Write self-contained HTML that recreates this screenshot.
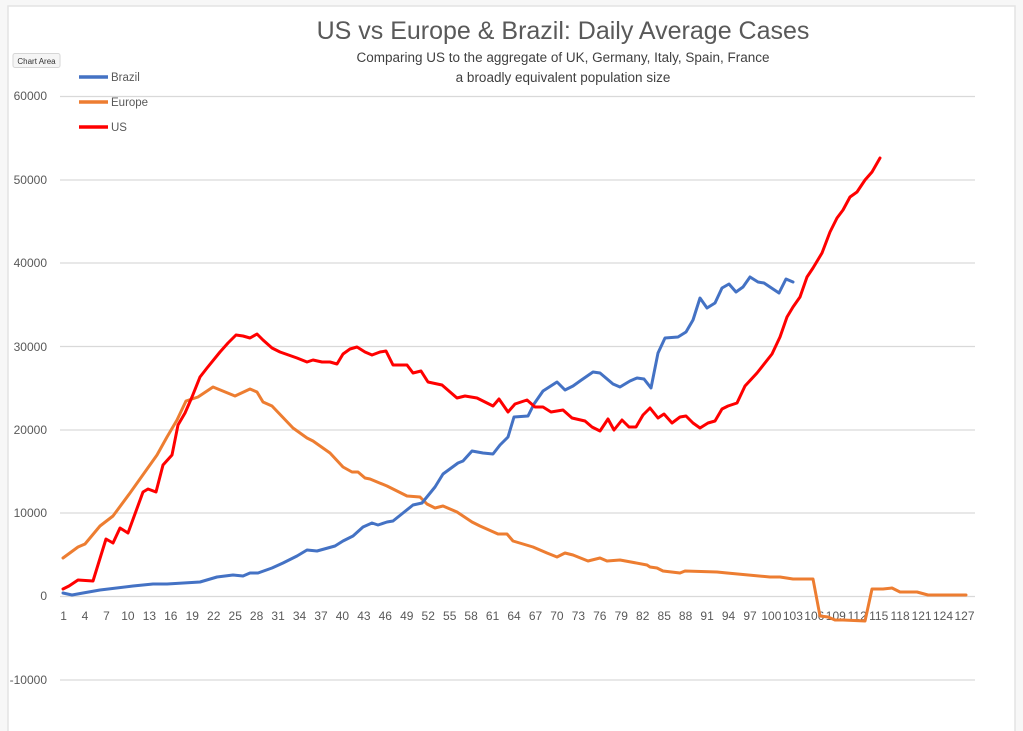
<!DOCTYPE html>
<html><head><meta charset="utf-8"><style>
body{margin:0;background:#fff;width:1023px;height:731px;overflow:hidden}
svg{display:block;font-family:"Liberation Sans",sans-serif}
</style></head><body>
<svg width="1023" height="731" viewBox="0 0 1023 731">
<rect x="0" y="0" width="1023" height="731" fill="#f7f7f7"/>
<rect x="8" y="6" width="1007" height="730" fill="#fff" stroke="#e3e3e3" stroke-width="1.5"/>
<text x="563" y="39" text-anchor="middle" font-size="25" fill="#595959">US vs Europe &amp; Brazil:  Daily Average Cases</text>
<text x="563" y="62" text-anchor="middle" font-size="13.5" fill="#404040">Comparing US to the aggregate of UK, Germany, Italy, Spain, France</text>
<text x="563" y="82" text-anchor="middle" font-size="13.5" fill="#404040">a broadly equivalent population size</text>
<rect x="13" y="53.5" width="47" height="14" rx="2" fill="#f5f5f5" stroke="#d6d6d6"/>
<text x="36.5" y="64" text-anchor="middle" font-size="8" fill="#333">Chart Area</text>
<g stroke="#d9d9d9" stroke-width="1.3">
<line x1="60" x2="975" y1="96.5" y2="96.5"/><line x1="60" x2="975" y1="180" y2="180"/>
<line x1="60" x2="975" y1="263" y2="263"/><line x1="60" x2="975" y1="346.5" y2="346.5"/>
<line x1="60" x2="975" y1="430" y2="430"/><line x1="60" x2="975" y1="513" y2="513"/>
<line x1="60" x2="975" y1="596.5" y2="596.5"/><line x1="60" x2="975" y1="680" y2="680"/>
</g>
<g font-size="12" fill="#595959" text-anchor="end">
<text x="47" y="100">60000</text><text x="47" y="184">50000</text><text x="47" y="267">40000</text>
<text x="47" y="351">30000</text><text x="47" y="434">20000</text><text x="47" y="517">10000</text>
<text x="47" y="600">0</text><text x="47" y="684">-10000</text>
</g>
<g font-size="12" fill="#595959" text-anchor="middle" id="xl"></g>
<g fill="none" stroke-width="3" stroke-linejoin="round" stroke-linecap="round">
<polyline stroke="#ed7d31" points="63,558 78,547 85,544 100,526 113,516 130,493 157,455 167,437 177,420 186,401 198,397 213,387 235,396 250,389 257,392 263,402 272,406 293,428 307,438 313,441 330,453 343,467 352,472 358,472 365,478 370,479 387,486 407,496 420,497 427,504 435,508 443,506 457,512 472,522 480,526 498,534 507,534 513,541 533,547 547,553 557,557 565,553 573,555 588,561 600,558 607,561 620,560 647,565 650,567 657,568 663,571 680,573 685,571 717,572 727,573 770,577 780,577 793,579 813,579 820,616 828,617 835,620 843,620 865,621 872,589 883,589 892,588 900,592 917,592 928,595 966,595"/>
<polyline stroke="#4472c4" points="63,593 72,595 83,593 100,590 133,586 153,584 167,584 200,582 217,577 233,575 243,576 250,573 258,573 272,568 283,563 297,556 307,550 317,551 335,546 343,541 353,536 363,527 372,523 378,525 387,522 393,521 403,513 413,505 422,503 435,487 443,474 458,463 463,461 472,451 483,453 493,454 500,445 508,437 514,417 528,416 534,404 543,391 557,382 565,390 573,386 580,381 593,372 600,373 613,384 620,387 630,381 637,378 644,379 651,388 658,353 665,338 678,337 686,332 693,320 700,298 707,308 715,303 722,288 729,284 736,292 743,287 750,277 758,282 764,283 779,293 786,279 793,282"/>
<polyline stroke="#ff0000" points="63,589 69,586 78,580 93,581 106,539 113,543 120,528 128,533 143,492 148,489 156,492 163,465 172,455 178,425 185,413 192,397 200,377 207,368 220,352 228,343 236,335 243,336 250,338 257,334 263,340 272,348 280,352 297,358 307,362 313,360 322,362 330,362 337,364 343,354 350,349 357,347 365,352 372,355 380,352 386,351 393,365 407,365 413,373 421,371 428,382 442,385 457,398 465,396 477,398 485,402 493,406 499,399 508,412 515,404 527,400 535,407 543,407 551,412 563,410 572,418 585,421 592,427 600,431 608,419 614,430 622,420 629,427 636,427 643,415 650,408 658,418 664,414 672,423 680,417 686,416 693,423 700,428 708,423 715,421 722,409 728,406 737,403 745,386 757,373 772,354 780,337 787,317 793,307 800,297 807,277 813,268 822,253 830,232 837,218 843,210 850,197 857,192 865,180 872,172 880,158"/>
</g>
<g stroke-width="3.5">
<line x1="79" x2="108" y1="77" y2="77" stroke="#4472c4"/>
<line x1="79" x2="108" y1="102" y2="102" stroke="#ed7d31"/>
<line x1="79" x2="108" y1="127" y2="127" stroke="#ff0000"/>
</g>
<g font-size="11.5" fill="#595959">
<text x="111" y="81">Brazil</text><text x="111" y="106">Europe</text><text x="111" y="131">US</text>
</g>
</svg>
<script>
var g=document.getElementById('xl'),s='';
for(var i=1;i<=127;i+=3){var x=60+(i-0.5)*7.15;s+='<text x="'+x.toFixed(1)+'" y="620">'+i+'</text>';}
g.innerHTML=s;
</script>
</body></html>
